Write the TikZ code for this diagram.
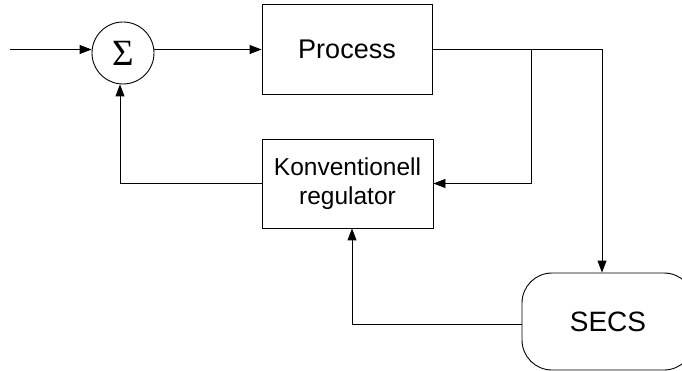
\documentclass[tikz,border=0pt]{standalone}
\usepackage{fontspec}
\setmainfont{Liberation Sans}
\newfontfamily\sigmafont{Liberation Serif}
\usetikzlibrary{arrows.meta,calc}
\begin{document}
\begin{tikzpicture}[x=1pt,y=-1pt,
  wire/.style={line width=0.9pt},
  arr/.style={wire,-{Triangle[length=12pt,width=9pt]}},
  block/.style={draw,line width=0.9pt,rectangle,inner sep=0pt},
  sumnode/.style={draw,line width=0.9pt,circle,minimum size=62pt,inner sep=0pt},
  txt/.style={font=\fontsize{27}{30}\selectfont}]
  % canvas
  \useasboundingbox (0,0) rectangle (682,371);
  \clip (0,0) rectangle (682,371);

  % nodes
  \coordinate (start) at (10,49.5);
  \node[sumnode] (sum) at (123,53) {\sigmafont\fontsize{37}{37}\selectfont Σ};
  \node[block,minimum width=170pt,minimum height=90pt,txt] (proc) at (347,49) {Process};
  \node[block,minimum width=171pt,minimum height=89pt,align=center,
        font=\fontsize{24.5}{29.5}\selectfont] (konv) at (347.5,183.5)
        {Konventionell\\regulator};
  \node[draw,line width=0.9pt,rounded corners=30pt,minimum width=172pt,
        minimum height=97pt,font=\fontsize{28}{30}\selectfont] (secs) at (608,321.5) {SECS};
  \coordinate (split) at (531,49.5);
  \coordinate (corner) at (602,49.5);

  % forward path
  \draw[arr] (start) -- (start -| sum.west);
  \draw[arr] (sum.east |- start) -- (start -| proc.west);
  \draw[wire] (proc.east |- start) -- (corner);
  \draw[arr] (corner) -- (corner |- secs.north);

  % feedback paths
  \draw[arr] (split) |- (konv.east);
  \draw[arr] (konv.west) -| ([xshift=-3pt]sum.south);
  \draw[arr] ([yshift=-3pt]secs.west) -| ([xshift=4.5pt]konv.south);
\end{tikzpicture}
\end{document}
